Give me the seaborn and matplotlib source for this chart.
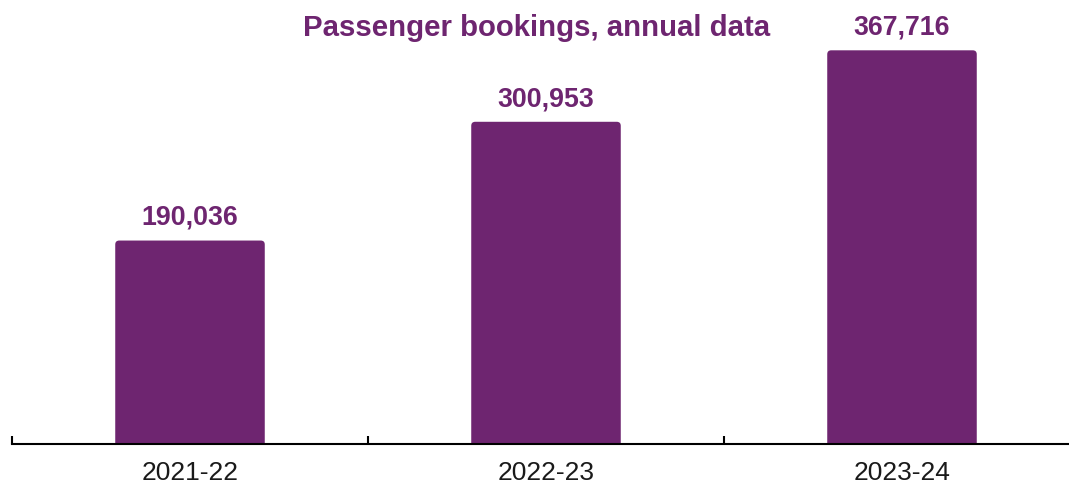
import matplotlib
matplotlib.use("Agg")
import matplotlib.pyplot as plt
from matplotlib.patches import FancyBboxPatch
import seaborn as sns
import pandas as pd

years = ["2021-22", "2022-23", "2023-24"]
bookings = [190036, 300953, 367716]
title = "Passenger bookings, annual data"

purple = "#6E2570"

sns.set_theme(style="white")
plt.rcParams["font.family"] = ["Liberation Sans", "DejaVu Sans"]

df = pd.DataFrame({"year": years, "bookings": bookings})

W, H = 1069, 484
fig = plt.figure(figsize=(W / 100, H / 100), dpi=100)
ax_w_px, ax_h_px = 1068, 444
ax = fig.add_axes([12 / W, 40 / H, ax_w_px / W, ax_h_px / H])
sns.barplot(data=df, x="year", y="bookings", color=purple, saturation=1,
            width=0.42, ax=ax)

ax.set_xlim(-0.5, 2.5)
ax.set_ylim(0, 414700)
ax.set_xlabel("")
ax.set_ylabel("")
ax.set_yticks([])
for s in ["top", "right", "left"]:
    ax.spines[s].set_visible(False)
ax.spines["bottom"].set_color("black")
ax.spines["bottom"].set_linewidth(1.5)
ax.spines["bottom"].set_zorder(5)

ax.set_xticks([-0.5, 0.5, 1.5, 2.5], minor=True)
ax.tick_params(axis="x", which="minor", direction="in", length=5.5, width=1.5,
               color="black", bottom=True)
ax.tick_params(axis="x", which="major", length=0, pad=12, labelsize=19,
               labelcolor="#1a1a1a")

ax.bar_label(ax.containers[0], labels=[f"{v:,}" for v in bookings],
             padding=7, fontsize=19.3, fontweight="bold", color=purple)

# slightly rounded bar corners
x_per_px = (ax.get_xlim()[1] - ax.get_xlim()[0]) / ax_w_px
y_per_px = (ax.get_ylim()[1] - ax.get_ylim()[0]) / ax_h_px
r_px = 4
for p in list(ax.patches):
    x, y, w, h = p.get_x(), p.get_y(), p.get_width(), p.get_height()
    ext = r_px * y_per_px * 2
    fb = FancyBboxPatch((x, y - ext), w, h + ext,
                        boxstyle=f"round,pad=0,rounding_size={r_px * x_per_px}",
                        mutation_aspect=y_per_px / x_per_px,
                        facecolor=purple, edgecolor="none", zorder=2)
    p.set_visible(False)
    ax.add_patch(fb)

fig.text(536.5 / W, 1 - 28 / H, title, ha="center", va="center",
         fontsize=21.2, fontweight="bold", color=purple)

fig.savefig("out.png", dpi=100)
